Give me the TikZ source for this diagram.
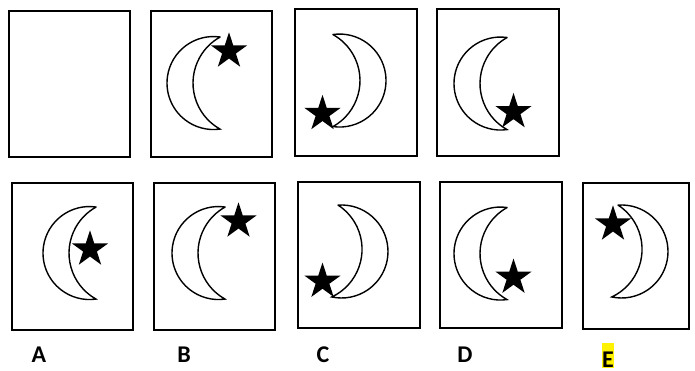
\documentclass[tikz,border=0pt]{standalone}
\usepackage{fontspec}
\setmainfont{Carlito}
\usetikzlibrary{shapes.geometric}
\begin{document}
\begin{tikzpicture}[x=1pt,y=1pt,
  box/.style={draw,line width=1.7pt},
  starmark/.style={shape=star,star points=5,star point ratio=2.618,minimum size=38pt,inner sep=0pt,fill=black},
  letter/.style={font=\bfseries\fontsize{24}{28}\selectfont,anchor=base},
  moon/.pic={\draw[line width=1.4pt] (0,46) arc[start angle=81.96,end angle=278.04,radius=46.5]
    arc[start angle=240.8,end angle=119.2,radius=52.7] -- cycle;}]
\useasboundingbox (0,0) rectangle (695,370);
% top row
\draw[box] (9,213) rectangle (130,359);
\draw[box] (151,213) rectangle (272,359);
\draw[box] (295,214) rectangle (417,361);
\draw[box] (437,214) rectangle (559,361);
\pic at (220,287) {moon};
\pic[xscale=-1] at (333,289.5) {moon};
\pic at (507,286.5) {moon};
\node[starmark] (s2) at (229,318.7) {};
\node[starmark] (s3) at (322.5,256.2) {};
\node[starmark] (s4) at (513.5,258.1) {};
% answers
\draw[box] (12,40) rectangle (133,187);
\draw[box] (154,40) rectangle (275,187);
\draw[box] (298,42) rectangle (420,188);
\draw[box] (440,42) rectangle (562,188);
\draw[box] (583,41) rectangle (689,187);
\pic at (96,117) {moon};
\pic at (225,117) {moon};
\pic[rotate=-4,xscale=-1] at (335,119) {moon};
\pic at (507,116.5) {moon};
\pic[rotate=-4,xscale=-1] at (615,119) {moon};
\node[starmark] (sA) at (90,120.7) {};
\node[starmark] (sB) at (238.5,148.7) {};
\node[starmark] (sC) at (322.5,88.5) {};
\node[starmark] (sD) at (513.5,92.5) {};
\node[starmark] (sE) at (613,145.7) {};
\node[letter] (lA) at (39,7.5) {A};
\node[letter] (lB) at (184,7.5) {B};
\node[letter] (lC) at (323,7.5) {C};
\node[letter] (lD) at (465,7.5) {D};
\node[letter,fill=yellow,inner xsep=0.6pt,inner ysep=0pt,text height=24pt,text depth=1pt] (lE) at (608,3) {E};
\end{tikzpicture}
\end{document}
